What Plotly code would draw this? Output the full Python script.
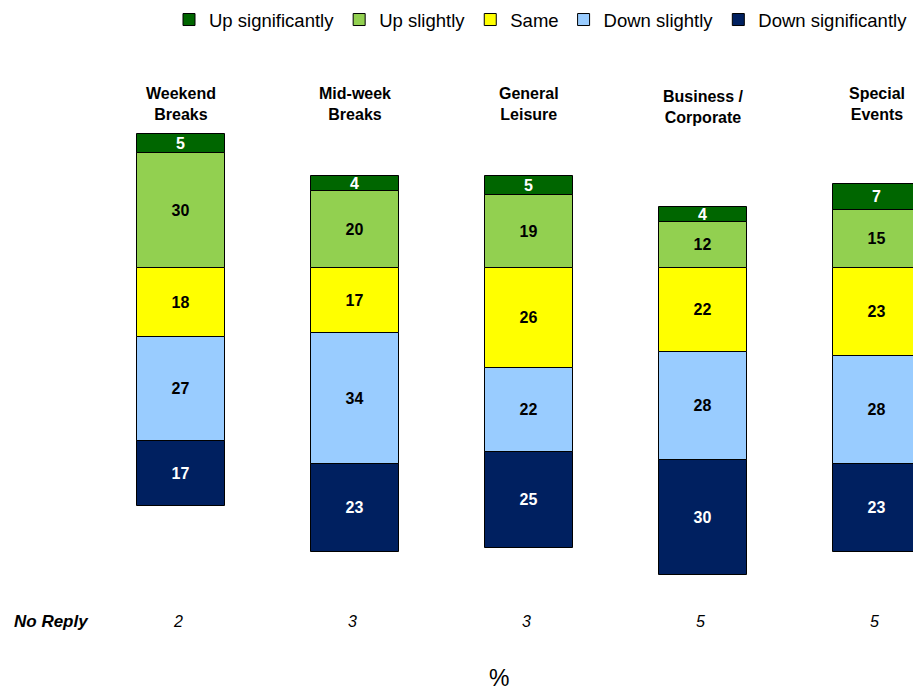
import plotly.graph_objects as go

categories = ["Weekend<br>Breaks", "Mid-week<br>Breaks", "General<br>Leisure", "Business /<br>Corporate", "Special<br>Events"]
up_significantly = [5, 4, 5, 4, 7]
up_slightly = [30, 20, 19, 12, 15]
same = [18, 17, 26, 22, 23]
down_slightly = [27, 34, 22, 28, 28]
down_significantly = [17, 23, 25, 30, 23]
no_reply = [2, 3, 3, 5, 5]

FONT = "Liberation Sans, Arial, sans-serif"
W, H = 913, 683          # page body has an 8px margin in the 921x691 window
xs = list(range(len(categories)))

series = [
    # name, values, sign, fill, text colour, legend rank
    ("Up slightly", up_slightly, 1, "#92D050", "black", 2),
    ("Up significantly", up_significantly, 1, "#006600", "white", 1),
    ("Same", same, -1, "#FFFF00", "black", 3),
    ("Down slightly", down_slightly, -1, "#99CCFF", "black", 4),
    ("Down significantly", down_significantly, -1, "#002060", "white", 5),
]

fig = go.Figure()
for name, vals, sign, col, tcol, rank in series:
    fig.add_trace(go.Bar(
        x=xs, y=[sign * v for v in vals], name=name,
        text=[str(v) for v in vals], textposition="inside",
        insidetextanchor="middle", textangle=0, constraintext="none",
        textfont=dict(family=FONT, size=16, color=tcol, weight="bold"),
        marker=dict(color=col, line=dict(color="black", width=1)),
        width=0.51, legendrank=rank, hoverinfo="skip",
    ))

annotations = []
for i, c in enumerate(categories):
    annotations.append(dict(
        x=i, y=1 - (99.5 if i == 3 else 96) / H, xref="x", yref="paper",
        text="<b>" + c + "</b>", showarrow=False, xanchor="center", yanchor="middle",
        font=dict(family=FONT, size=16, color="black"),
    ))
    annotations.append(dict(
        x=i - 0.015, y=1 - 613 / H, xref="x", yref="paper",
        text="<i>" + str(no_reply[i]) + "</i>", showarrow=False,
        xanchor="center", yanchor="middle",
        font=dict(family=FONT, size=16, color="black"),
    ))
annotations.append(dict(
    x=4 / W, y=1 - 613 / H, xref="paper", yref="paper",
    text="<b><i>No Reply</i></b>", showarrow=False, xanchor="left", yanchor="middle",
    font=dict(family=FONT, size=17, color="black"),
))
annotations.append(dict(
    x=491 / W, y=1 - 670 / H, xref="paper", yref="paper",
    text="%", showarrow=False, xanchor="center", yanchor="middle",
    font=dict(family=FONT, size=23, color="black"),
))

fig.update_layout(
    width=W, height=H,
    margin=dict(l=0, r=0, t=0, b=0, autoexpand=False),
    paper_bgcolor="white", plot_bgcolor="white",
    barmode="relative",
    bargap=0,
    showlegend=True,
    legend=dict(orientation="h", x=161 / W, xanchor="left", y=1 - 12 / H, yanchor="middle",
                font=dict(family=FONT, size=18.5, color="black"),
                traceorder="normal", bgcolor="rgba(0,0,0,0)"),
    xaxis=dict(range=[-0.9943, 4.2529], visible=False, fixedrange=True),
    yaxis=dict(range=[-110.16, 67.71], visible=False, fixedrange=True),
    annotations=annotations,
    font=dict(family=FONT),
)

fig.write_html("out.html")
